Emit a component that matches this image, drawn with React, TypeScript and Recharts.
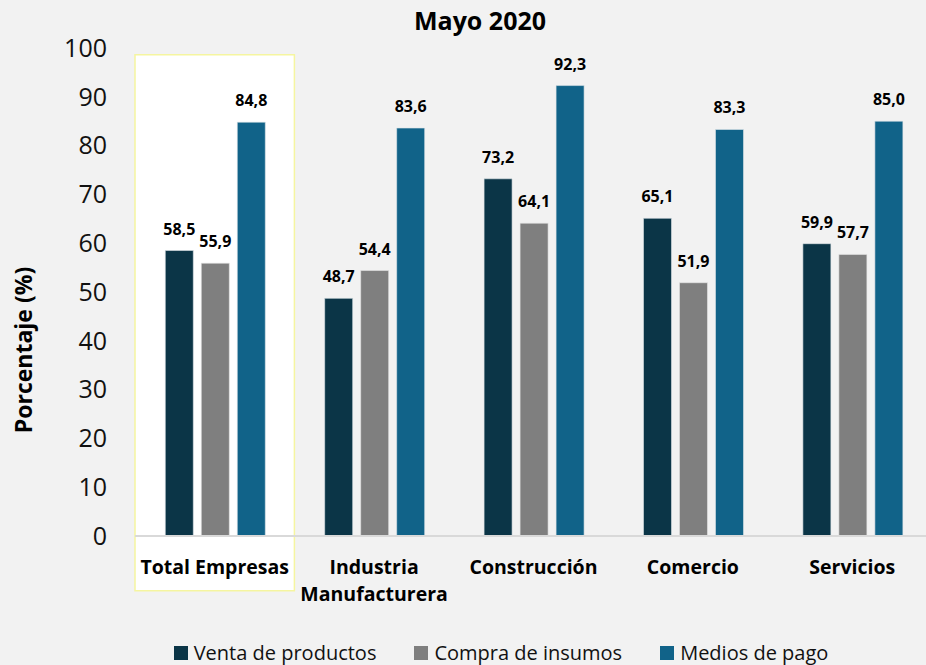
import { BarChart, Bar, XAxis, YAxis, LabelList, Legend, ReferenceArea } from "recharts";

const categories = ["Total Empresas", "Industria Manufacturera", "Construcción", "Comercio", "Servicios"];
const ventaProductos = [58.5, 48.7, 73.2, 65.1, 59.9];
const compraInsumos = [55.9, 54.4, 64.1, 51.9, 57.7];
const mediosPago = [84.8, 83.6, 92.3, 83.3, 85.0];
const yTicks = [0, 10, 20, 30, 40, 50, 60, 70, 80, 90, 100];

const seriesNames = ["Venta de productos", "Compra de insumos", "Medios de pago"];
const colors = ["#0b3547", "#7f7f7f", "#116389"];

const data = categories.map((name, i) => ({
  name,
  venta: ventaProductos[i],
  compra: compraInsumos[i],
  medios: mediosPago[i],
}));

const FONT = "'Open Sans', 'Noto Sans', sans-serif";

const fmt = (v: any) => Number(v).toFixed(1).replace(".", ",");

const CategoryTick = (props: any) => {
  const { x, y, payload } = props;
  const lines = payload.value === "Industria Manufacturera" ? ["Industria", "Manufacturera"] : [payload.value];
  return (
    <text x={x} y={y} textAnchor="middle" fontFamily={FONT} fontSize={19.5} fontWeight={700} fill="#000">
      {lines.map((l: string, i: number) => (
        <tspan key={i} x={x} dy={i === 0 ? 30 : 27}>
          {l}
        </tspan>
      ))}
    </text>
  );
};

const LegendContent = () => (
  <div
    style={{
      display: "flex",
      justifyContent: "center",
      fontFamily: FONT,
      fontSize: 20,
      color: "#111",
      paddingLeft: 70,
      position: "relative",
      top: 6,
    }}
  >
    {seriesNames.map((n, i) => (
      <div key={n} style={{ display: "flex", alignItems: "center", marginRight: i < 2 ? 38 : 0 }}>
        <span style={{ width: 14, height: 14, background: colors[i], display: "inline-block", marginRight: 6 }} />
        <span>{n}</span>
      </div>
    ))}
  </div>
);

const labelStyle = { fontFamily: FONT, fontSize: 16, fontWeight: 700, fill: "#000" };

export default function App() {
  return (
    <div
      style={{
        position: "fixed",
        left: 0,
        top: 0,
        width: 926,
        height: 665,
        background: "#f2f2f2",
        overflow: "hidden",
      }}
    >
      <div
        style={{
          position: "absolute",
          top: 3,
          left: 330,
          width: 300,
          textAlign: "center",
          fontFamily: FONT,
          fontWeight: 700,
          fontSize: 25,
          lineHeight: "34px",
          color: "#000",
        }}
      >
        Mayo 2020
      </div>
      <div
        style={{
          position: "absolute",
          left: 23,
          top: 350,
          transform: "translate(-50%, -50%) rotate(-90deg)",
          fontFamily: FONT,
          fontWeight: 700,
          fontSize: 23,
          whiteSpace: "nowrap",
          color: "#000",
        }}
      >
        Porcentaje (%)
      </div>
      <BarChart
        width={932}
        height={665}
        data={data}
        margin={{ top: 48, right: 0, left: 0, bottom: 0 }}
        barCategoryGap="19%"
        barGap={8}
      >
        <ReferenceArea
          x1="Total Empresas"
          x2="Total Empresas"
          y1={-11.2}
          y2={98.6}
          fill="#ffffff"
          fillOpacity={1}
          stroke="#f5f5a0"
          strokeWidth={1.5}
          ifOverflow="visible"
        />
        <XAxis
          dataKey="name"
          interval={0}
          tick={<CategoryTick />}
          tickLine={false}
          axisLine={{ stroke: "#d9d9d9", strokeWidth: 2 }}
          height={97}
        />
        <YAxis
          domain={[0, 100]}
          ticks={yTicks}
          width={135}
          axisLine={false}
          tickLine={false}
          tickSize={0}
          tickMargin={28}
          tick={{ fontFamily: FONT, fontSize: 25, fill: "#111" }}
        />
        <Legend verticalAlign="bottom" height={32} content={<LegendContent />} />
        <Bar dataKey="venta" name={seriesNames[0]} fill={colors[0]} stroke="#dfe6ea" strokeWidth={0.6} isAnimationActive={false}>
          <LabelList dataKey="venta" position="top" offset={16} formatter={fmt} style={labelStyle} />
        </Bar>
        <Bar dataKey="compra" name={seriesNames[1]} fill={colors[1]} stroke="#e6e6e6" strokeWidth={0.6} isAnimationActive={false}>
          <LabelList dataKey="compra" position="top" offset={16} formatter={fmt} style={labelStyle} />
        </Bar>
        <Bar dataKey="medios" name={seriesNames[2]} fill={colors[2]} stroke="#dfe6ea" strokeWidth={0.6} isAnimationActive={false}>
          <LabelList dataKey="medios" position="top" offset={16} formatter={fmt} style={labelStyle} />
        </Bar>
      </BarChart>
    </div>
  );
}
